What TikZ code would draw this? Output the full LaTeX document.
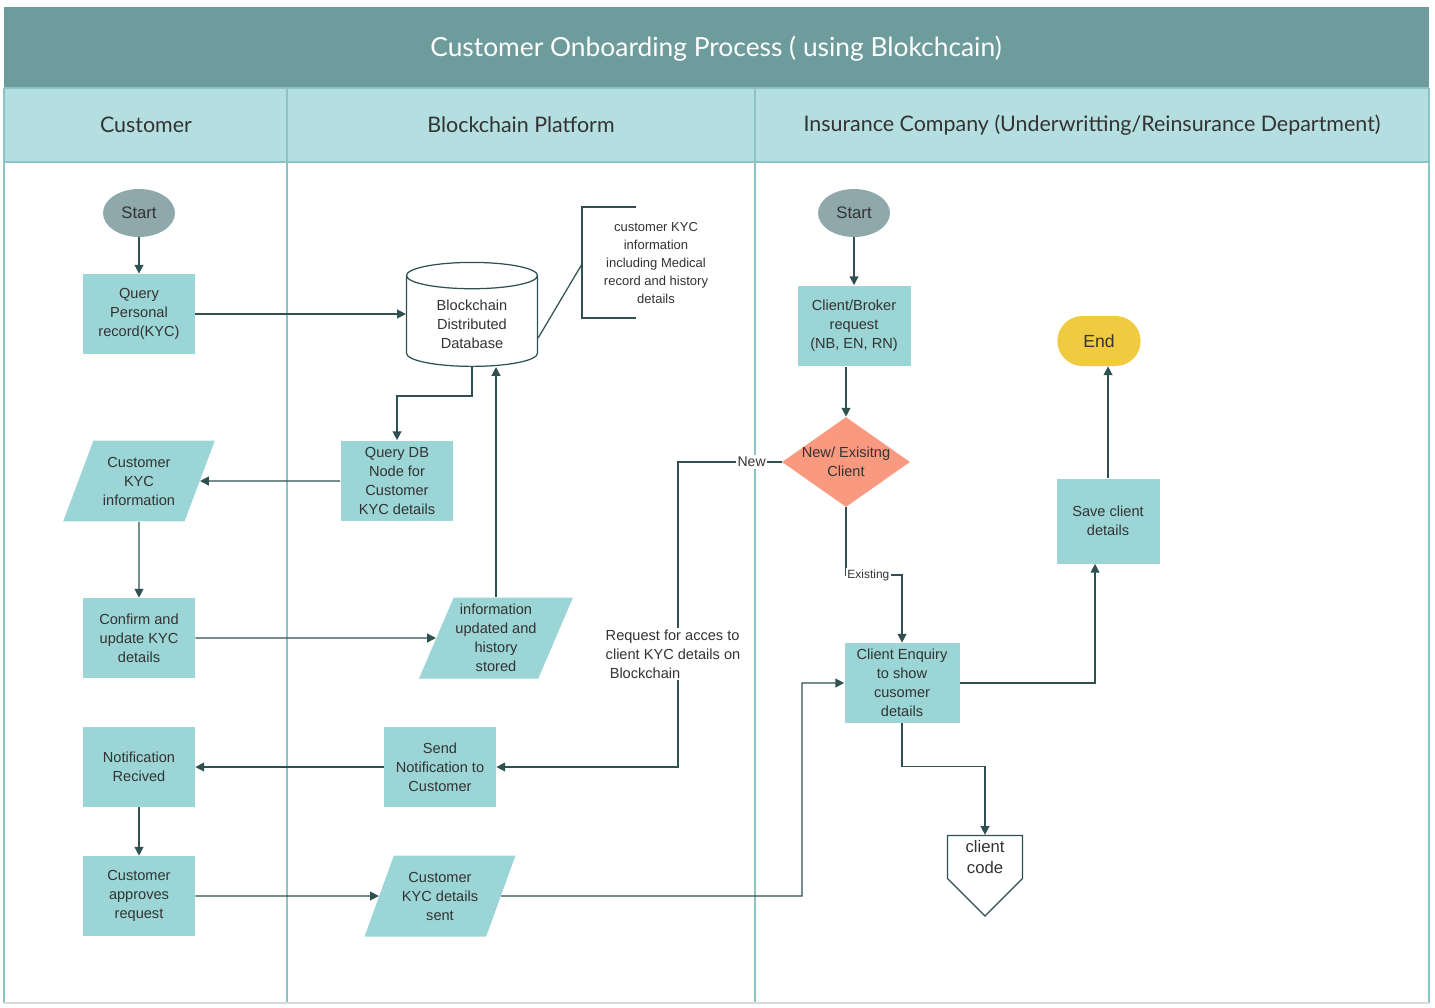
\documentclass[tikz,border=0pt]{standalone}
\usepackage{fontspec}
\setmainfont{Liberation Sans}
\newfontfamily\headfont{Lato}
\usetikzlibrary{arrows.meta,shapes.geometric,shapes.misc,shapes.symbols}

\definecolor{titleband}{HTML}{6E9B9B}
\definecolor{headband}{HTML}{B4DEDF}
\definecolor{boxfill}{HTML}{9BD5D6}
\definecolor{startfill}{HTML}{8FA8AC}
\definecolor{decfill}{HTML}{F99A80}
\definecolor{endfill}{HTML}{F1CB3F}
\definecolor{linegrey}{HTML}{2F5050}
\definecolor{laneline}{HTML}{8CC3C3}
\definecolor{textgrey}{HTML}{333333}

\begin{document}
\begin{tikzpicture}[
  x=0.02cm, y=-0.02cm,
  every node/.style={align=center, text=textgrey, font=\fontsize{8.3}{10.8}\selectfont},
  process/.style={rectangle, fill=boxfill, inner sep=1pt, minimum width=2.24cm, minimum height=1.6cm},
  data/.style={trapezium, trapezium left angle=64, trapezium right angle=116, trapezium stretches=true,
    fill=boxfill, inner sep=1pt, minimum width=3.04cm, minimum height=1.62cm},
  terminal/.style={ellipse, fill=startfill, minimum width=1.44cm, minimum height=0.96cm, font=\fontsize{9.5}{11}\selectfont},
  finish/.style={rounded rectangle, fill=endfill, minimum width=1.9cm, minimum height=1cm, font=\fontsize{10}{12}\selectfont},
  decision/.style={diamond, fill=decfill, aspect=1.42, inner sep=-1.5pt, minimum width=2.56cm, minimum height=1.8cm},
  database/.style={cylinder, shape border rotate=90, aspect=0.32, draw=linegrey, line width=0.7pt, fill=white,
    minimum width=2.62cm, minimum height=2.08cm},
  offpage/.style={signal, signal to=south, signal pointer angle=90, draw=linegrey, line width=0.7pt, fill=white,
    inner xsep=1pt, inner ysep=2.5pt, minimum width=1.5cm, font=\fontsize{9.5}{12.5}\selectfont},
  heading/.style={font=\headfont\fontsize{12.2}{14}\selectfont},
  flow/.style={-{Triangle[length=5pt, width=5pt]}, draw=linegrey, line width=0.8pt},
  line/.style={-, draw=linegrey, line width=0.7pt},
  tag/.style={fill=white, inner sep=1pt, font=\fontsize{8}{9}\selectfont},
  lane/.style={draw=laneline, line width=0.6pt}]

  \useasboundingbox (0,0) rectangle (1435,1007);
  \fill[white] (0,0) rectangle (1435,1007);

  % Title and swimlane headers
  \fill[titleband] (4,7) rectangle (1429,88);
  \fill[headband] (4,88) rectangle (1429,162);
  \draw[lane] (4,88) -- (1429,88);
  \draw[lane] (4,162) -- (1429,162);
  \draw[lane] (4,88) -- (4,1003);
  \draw[lane] (287,88) -- (287,1003);
  \draw[lane] (755,88) -- (755,1003);
  \draw[lane] (1429,88) -- (1429,1003);
  \draw[black!15, line width=0.6pt] (4,1003) -- (1429,1003);

  \node[font=\headfont\fontsize{15}{17}\selectfont, text=white] (title) at (716,49) {Customer Onboarding Process ( using Blokchcain)};
  \node[heading] (hcustomer) at (146,125) {Customer};
  \node[heading] (hchain) at (521,125) {Blockchain Platform};
  \node[heading] (hinsurer) at (1092,125) {Insurance Company (Underwritting/Reinsurance Department)};

  % Customer lane
  \node[terminal] (start1) at (139,213) {Start};
  \node[process] (query) at (139,314) {Query\\Personal\\record(KYC)};
  \node[data] (kycinfo) at (139,481) {Customer\\KYC\\information};
  \node[process] (confirm) at (139,638) {Confirm and\\update KYC\\details};
  \node[process] (notified) at (139,767) {Notification\\Recived};
  \node[process] (approves) at (139,896) {Customer\\approves\\request};

  % Blockchain lane
  \node[database] (db) at (472,324) {Blockchain\\Distributed\\Database};
  \node[font=\fontsize{7.4}{10.2}\selectfont] (note) at (656,263) {customer KYC\\information\\including Medical\\record and history\\details};
  \coordinate (bracket) at (582,264);
  \node[process, minimum width=2.26cm, minimum height=1.62cm] (querydb) at (397,481) {Query DB\\Node for\\Customer\\KYC details};
  \node[data] (updated) at (496,638) {information\\updated and\\history\\stored};
  \node[process] (sendnote) at (440,767) {Send\\Notification to\\Customer};
  \node[data] (kycsent) at (440,896) {Customer\\KYC details\\sent};

  % Insurance company lane
  \node[terminal] (start2) at (854,213) {Start};
  \node[process, minimum width=2.26cm, minimum height=1.62cm] (broker) at (854,326) {Client/Broker\\request\\(NB, EN, RN)};
  \node[decision] (neworold) at (846,462) {New/ Exisitng\\Client};
  \node[process, minimum width=2.3cm] (enquiry) at (902,683) {Client Enquiry\\to show\\cusomer\\details};
  \node[offpage] (code) at (985,857) {client\\code};
  \node[process, minimum width=2.06cm, minimum height=1.7cm] (save) at (1108,521) {Save client\\details};
  \node[finish] (end) at (1099,341) {End};

  % Connectors
  \draw[flow] (start1) -- (query);
  \draw[flow] (query) -- (query -| db.west);
  \draw[line] ([yshift=-0.28cm]db.east) -- (bracket);
  \draw[line] (636,207) -| (bracket) |- (636,318);
  \draw[flow] (db.south) -- (472,396) -| (querydb.north);
  \draw[flow] (querydb) -- (kycinfo);
  \draw[flow] (kycinfo) -- (confirm);
  \draw[flow] (confirm) -- (updated);
  \draw[flow] (updated.north) -- (updated.north |- db.south);
  \draw[flow] (start2) -- (broker);
  \draw[flow] (neworold.north |- broker.south) -- (neworold);
  \draw[flow] (neworold.west) -- node[tag, pos=0.29] {New} (678,462) |- (sendnote.east);
  \node[fill=white, align=left, inner sep=1pt] (request) at (673,654) {Request for acces to\\client KYC details on\\\ Blockchain};
  \draw[flow] (sendnote) -- (notified);
  \draw[flow] (notified) -- (approves);
  \draw[flow] (approves) -- (kycsent);
  \draw[flow] (kycsent.east) -- (802,896) |- (enquiry.west);
  \draw[flow] (neworold.south) -- (846,575) -- node[tag, pos=0.4, font=\fontsize{6.8}{8}\selectfont] {Existing} (902,575) -- (enquiry.north);
  \draw[flow] (enquiry.south) -- ++(0,43) -| (code.north);
  \draw[flow] (enquiry.east) -| ([xshift=-0.26cm]save.south);
  \draw[flow] (save.north) -- (save.north |- end.south);

\end{tikzpicture}
\end{document}
